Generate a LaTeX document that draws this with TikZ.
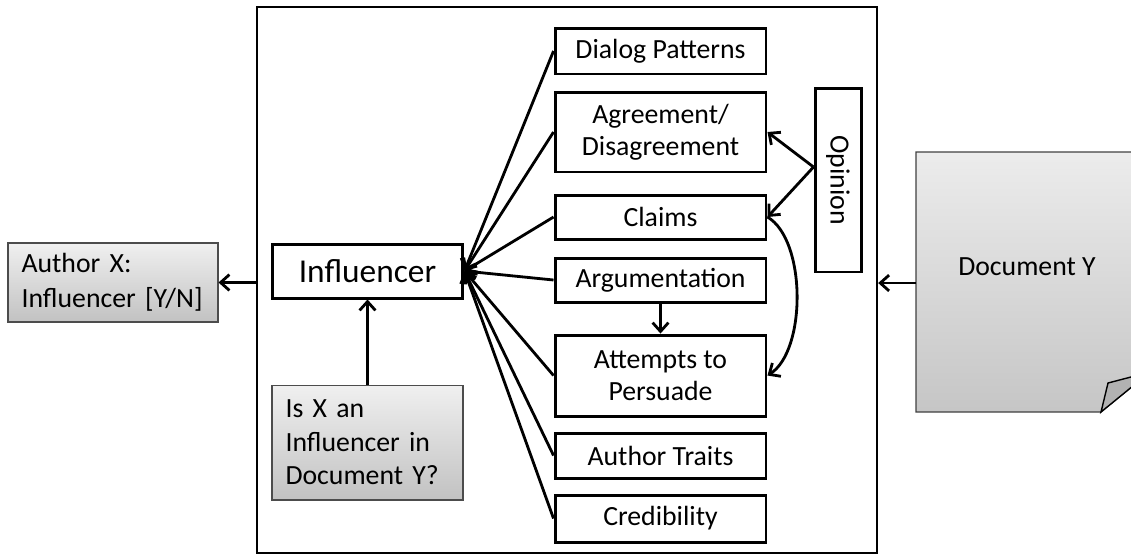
\documentclass[tikz,border=0pt]{standalone}
\usepackage{fontspec}
\setmainfont{Carlito}
\usetikzlibrary{arrows.meta,calc}

\begin{document}
\begin{tikzpicture}[x=0.02cm,y=-0.02cm,>={Straight Barb[length=5pt,width=9pt]},
    every node/.style={font=\fontsize{15.8}{18}\selectfont},
    box/.style={draw,line width=1.7pt,minimum width=4.22cm,align=center,inner sep=0pt},
    graybox/.style={draw=black!70,line width=0.6pt,top color=gray!12,bottom color=gray!48,align=left,inner xsep=0.27cm,inner ysep=0pt},
    link/.style={->,line width=1.6pt}]
    \path[use as bounding box,clip] (0,0) rectangle (1131,556);
    \node[draw,line width=1.4pt,minimum width=12.4cm,minimum height=10.92cm] (frame) at (567,280) {};
    % document page with folded corner
    \shade[top color=gray!15,bottom color=gray!45,draw=black!75,line width=0.6pt] (916,152) -- (1160,152) -- (1160,372) -- (1150,372) -- (1101,412) -- (916,412) -- cycle;
    \filldraw[fill=gray!60,draw=black,line width=0.8pt] (1101,412) -- (1108,383) -- (1150,372) -- cycle;
    \node (doc) at (1027,267) {Document Y};
    \coordinate (docw) at (916,283);
    \node[graybox,text width=3.66cm,minimum height=1.58cm,font=\fontsize{15.8}{20}\selectfont] (author) at (113,282.5) {Author X:\\Influencer [Y/N]};
    \node[draw,line width=1.7pt,minimum width=3.82cm,minimum height=1.08cm,inner sep=0pt,font=\fontsize{19}{22}\selectfont] (influencer) at (367.5,271) {Influencer};
    \node[graybox,text width=3.28cm,minimum height=2.3cm,font=\fontsize{15.8}{19}\selectfont] (isx) at (367.5,442.5) {Is X an\\Influencer in\\Document Y?};
    \node[box,minimum height=0.92cm] (dialog) at (660.5,51) {Dialog Patterns};
    \node[box,minimum height=1.6cm] (agree) at (660.5,132) {Agreement/\\Disagreement};
    \node[box,minimum height=0.88cm] (claims) at (660.5,217) {Claims};
    \node[box,minimum height=0.88cm] (argu) at (660.5,280) {Argumentation};
    \node[box,minimum height=1.62cm] (persuade) at (660.5,375.5) {Attempts to\\Persuade};
    \node[box,minimum height=0.9cm] (traits) at (660.5,455.5) {Author Traits};
    \node[box,minimum height=0.94cm] (cred) at (660.5,518.5) {Credibility};
    \node[box,rotate=-90,minimum width=3.68cm,minimum height=0.92cm] (opinion) at (838,180) {Opinion};
    \foreach \n in {dialog,agree,claims,argu,persuade,traits,cred}
        \draw[link] (\n.west) -- (influencer.east);
    \draw[link] (isx.north) -- (influencer.south);
    \draw[link] (author.east -| frame.west) -- (author.east);
    \draw[link] (docw) -- (docw -| frame.east);
    \draw[link] (argu.south) -- (persuade.north);
    \draw[link] ([yshift=0.26cm]opinion.south) -- (agree.east);
    \draw[link] ([yshift=0.26cm]opinion.south) -- (claims.east);
    \draw[link] (claims.east) .. controls +(39,23) and +(39,-25) .. (persuade.east);
\end{tikzpicture}
\end{document}
